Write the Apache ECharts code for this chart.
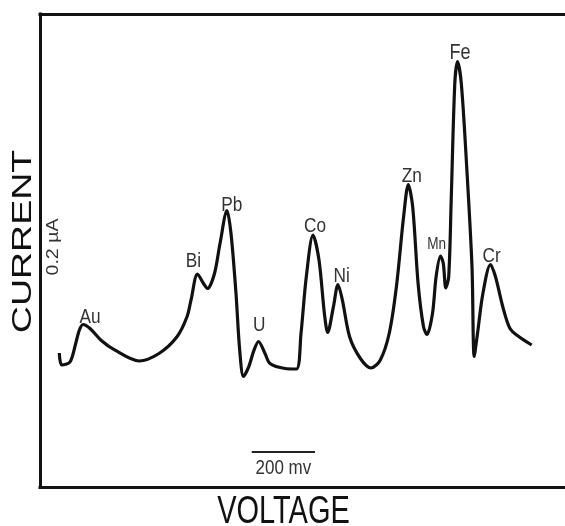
<!DOCTYPE html>
<html>
<head>
<meta charset="utf-8">
<script src="https://cdn.jsdelivr.net/npm/echarts@6/dist/echarts.min.js"></script>
<style>
html,body{margin:0;padding:0;background:#fff;}
#chart{width:565px;height:526px;}
</style>
</head>
<body>
<div id="chart"></div>
<script>
// Stripping voltammogram trace (voltage in arbitrary sweep units, current in arbitrary units)
const voltage = [19.3, 21.7, 30, 35.7, 39.3, 43, 50, 61, 75, 99, 119, 137, 147, 151, 157.5, 163.5, 167.5, 174.5, 180, 187, 191, 196, 199.7, 203.5, 208.7, 214, 218.5, 225, 230, 245, 256.5, 261, 266.3, 273, 279, 284.4, 287.7, 293.4, 298, 302.4, 309.6, 320.4, 331, 340.2, 349.2, 356.4, 363.6, 368.3, 372.7, 378.1, 383.5, 387, 392.5, 396.1, 400.5, 403.3, 405.8, 408.7, 411.2, 414.8, 417.5, 421.3, 426.7, 432, 434.2, 437.5, 442.9, 450.5, 455.5, 462.8, 470, 479, 491.7];
const current = [134, 122, 125, 143.5, 156.8, 162.5, 158.5, 146.8, 136.8, 126, 133.5, 150.2, 170.2, 186.8, 213, 203.5, 198.5, 213.5, 243.5, 276.5, 253.5, 193.5, 136.8, 110.5, 120.1, 136.8, 145.5, 133.5, 123.5, 118.5, 118, 153.5, 210.2, 252, 226.9, 173.5, 154.5, 180.2, 202.5, 186.8, 150.2, 128.5, 119, 126.8, 153.5, 200.2, 270.2, 302.5, 280.2, 203.5, 160.2, 152.5, 173.5, 210.2, 231, 223.5, 199, 210.2, 286.9, 403.6, 425.3, 403.6, 320.2, 220.2, 130.5, 153.5, 193.5, 222.5, 210.2, 180.2, 158.5, 150.2, 142];

// Peak labels (element names) and their anchor positions in data units
const peakNames = ['Au', 'Bi', 'Pb', 'U', 'Co', 'Ni', 'Zn', 'Mn', 'Fe', 'Cr'];
const peakLabelV = [50, 153.3, 191.7, 219.3, 275, 301.7, 371.7, 396.7, 420, 451.7];
const peakLabelI = [169.5, 225.3, 282, 162, 260.3, 210.3, 310.3, 242, 433.7, 230.3];

// Scale bar: 200 mV
const scaleBarText = '200 mv';
const scaleBarV = [211.7, 275];
const scaleBarI = 35.3;

const axisTitleX = 'VOLTAGE';
const axisTitleY = 'CURRENT';
const currentScaleText = '0.2 µA';

const trace = voltage.map((v, i) => [v, current[i]]);
const labelData = peakNames.map((n, i) => [peakLabelV[i], peakLabelI[i]]);
labelData.push([(scaleBarV[0] + scaleBarV[1]) / 2, scaleBarI - 16.5]);
const labelTexts = peakNames.concat([scaleBarText]);

const FONT = "'Liberation Sans', Arial, sans-serif";
const frameLine = {show: true, onZero: false, lineStyle: {color: '#111', width: 3, cap: 'square'}};

const chart = echarts.init(document.getElementById('chart'), null, {renderer: 'canvas'});
chart.setOption({
  animation: false,
  backgroundColor: '#ffffff',
  grid: {
    left: 40, top: 14, width: 530, height: 473,
    outerBoundsMode: 'none',
    containLabel: false,
    show: false
  },
  xAxis: [
    {
      type: 'value', min: 0, max: 530, position: 'bottom',
      axisLine: frameLine, axisTick: {show: false}, axisLabel: {show: false}, splitLine: {show: false}
    },
    {
      type: 'value', min: 0, max: 530, position: 'top',
      axisLine: frameLine, axisTick: {show: false}, axisLabel: {show: false}, splitLine: {show: false}
    }
  ],
  yAxis: {
    type: 'value', min: 0, max: 473, position: 'left',
    axisLine: frameLine, axisTick: {show: false}, axisLabel: {show: false}, splitLine: {show: false}
  },
  series: [
    {
      type: 'line',
      data: trace,
      showSymbol: false,
      smooth: 0.3,
      lineStyle: {color: '#111', width: 3.2},
      markLine: {
        silent: true,
        symbol: 'none',
        label: {show: false},
        lineStyle: {color: '#222', width: 2, type: 'solid'},
        data: [[{coord: [scaleBarV[0], scaleBarI]}, {coord: [scaleBarV[1], scaleBarI]}]]
      }
    },
    {
      type: 'custom',
      data: labelData,
      silent: true,
      renderItem: function (params, api) {
        const p = api.coord([api.value(0), api.value(1)]);
        const txt = labelTexts[params.dataIndex];
        let fs = 21, sx = 0.82;
        if (txt === 'Mn') { fs = 16; sx = 0.85; }
        if (txt === 'Fe') { fs = 22; sx = 0.82; }
        if (txt === scaleBarText) { fs = 20; sx = 0.85; }
        return {
          type: 'text',
          x: p[0], y: p[1], scaleX: sx,
          style: {
            text: txt, fontSize: fs, fontFamily: FONT, fill: '#333',
            align: 'center', verticalAlign: 'middle'
          }
        };
      }
    }
  ],
  graphic: [
    {
      type: 'text', x: 23, y: 241.5, rotation: Math.PI / 2, scaleX: 1.34,
      style: {text: axisTitleY, fontSize: 28, fontFamily: FONT, fill: '#111', align: 'center', verticalAlign: 'middle'}
    },
    {
      type: 'text', x: 283.5, y: 512, scaleY: 1.35,
      style: {text: axisTitleX, fontSize: 29, fontFamily: FONT, fill: '#111', align: 'center', verticalAlign: 'middle'}
    },
    {
      type: 'text', x: 53, y: 247, rotation: Math.PI / 2, scaleX: 1.15,
      style: {text: currentScaleText, fontSize: 17, fontFamily: FONT, fill: '#333', align: 'center', verticalAlign: 'middle'}
    }
  ]
});
</script>
</body>
</html>
